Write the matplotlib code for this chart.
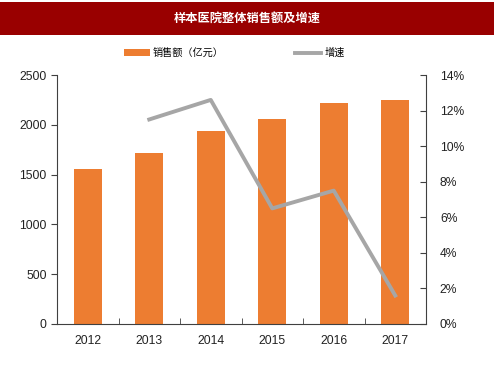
import matplotlib
matplotlib.use('Agg')
import matplotlib.pyplot as plt
from matplotlib.patches import Rectangle, Patch
from matplotlib.lines import Line2D
from matplotlib.ticker import FuncFormatter

years = ['2012', '2013', '2014', '2015', '2016', '2017']
sales = [1555, 1720, 1935, 2055, 2215, 2245]
growth_years = [1, 2, 3, 4, 5]
growth = [11.5, 12.6, 6.5, 7.5, 1.6]

plt.rcParams['font.family'] = ['Liberation Sans', 'Noto Sans CJK SC']
cjk = ['Noto Sans CJK SC', 'DejaVu Sans']

fig = plt.figure(figsize=(4.94, 3.68), dpi=100)

# red title band
fig.patches.append(Rectangle((0, 1 - 35 / 368), 1, 33 / 368, transform=fig.transFigure,
                             facecolor='#990000', edgecolor='none'))
fig.text(0.5, 1 - 18.5 / 368, '样本医院整体销售额及增速', color='white', fontsize=8.8,
         fontweight='bold', ha='center', va='center', family=cjk)

ax = fig.add_axes([57 / 494, 1 - 324 / 368, 369 / 494, 249 / 368])
x = range(len(years))
ax.bar(x, sales, width=0.45, color='#ED7D31', zorder=2)
ax.set_xlim(-0.5, 5.5)
ax.set_ylim(0, 2500)
ax.set_yticks(range(0, 2501, 500))
ax.set_xticks(list(x))
ax.set_xticklabels(years)
ax.set_xticks([i + 0.5 for i in range(5)], minor=True)
ax.tick_params(axis='x', which='major', length=0, labelsize=8.7, pad=8, labelcolor='#222222')
ax.tick_params(axis='x', which='minor', direction='in', length=4, color='#404040')
ax.tick_params(axis='y', direction='out', length=4, labelsize=8.7, color='#404040',
               labelcolor='#222222')
for s in ['top', 'right']:
    ax.spines[s].set_visible(False)
ax.spines['left'].set_color('#404040')
ax.spines['bottom'].set_color('#404040')

ax2 = ax.twinx()
ax2.plot(growth_years, growth, color='#A6A6A6', linewidth=2.8, zorder=3)
ax2.set_ylim(0, 14)
ax2.set_yticks(range(0, 15, 2))
ax2.yaxis.set_major_formatter(FuncFormatter(lambda v, p: f'{int(v)}%'))
ax2.tick_params(axis='y', direction='in', length=4, labelsize=8.7, pad=10, color='#404040',
                labelcolor='#222222')
for s in ['top', 'left', 'bottom']:
    ax2.spines[s].set_visible(False)
ax2.spines['right'].set_color('#404040')

handles = [Patch(facecolor='#ED7D31', edgecolor='none', label='销售额（亿元）'),
           Line2D([0], [0], color='#A6A6A6', linewidth=2.8, label='增速')]
fig.legend(handles=handles, loc='center', bbox_to_anchor=(0.474, 1 - 53 / 368), ncol=2,
           frameon=False, prop={'family': cjk, 'size': 7.3}, columnspacing=7.0,
           handlelength=2.6, handletextpad=0.3)

fig.savefig('out.png', dpi=100)
